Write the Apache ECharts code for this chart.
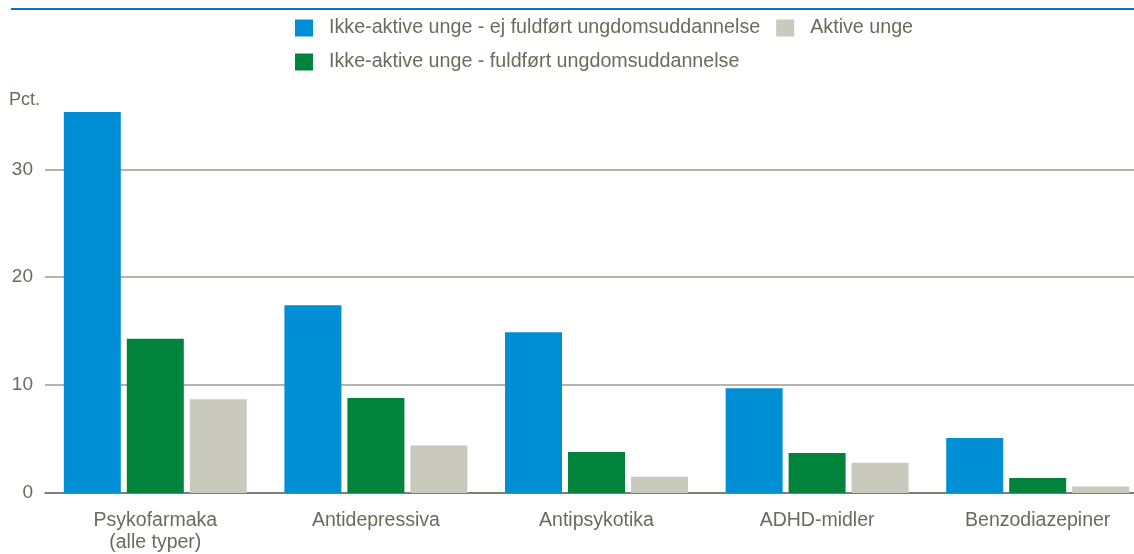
<!DOCTYPE html>
<html>
<head>
<meta charset="utf-8">
<script src="https://cdn.jsdelivr.net/npm/echarts@6/dist/echarts.min.js"></script>
<style>
  html, body { margin: 0; padding: 0; background: #fff; overflow: hidden; }
  /* plot area runs past the right edge in the original, so the div is a bit wider than the window */
  #chart { width: 1148px; height: 554px; }
</style>
</head>
<body>
<div id="chart"></div>
<script>
// data
const categories = ['Psykofarmaka\n(alle typer)', 'Antidepressiva', 'Antipsykotika', 'ADHD-midler', 'Benzodiazepiner']
const seriesNames = [
  'Ikke-aktive unge - ej fuldført ungdomsuddannelse',
  'Ikke-aktive unge - fuldført ungdomsuddannelse',
  'Aktive unge'
]
const ejFuldfort = [35.3, 17.4, 14.9, 9.7, 5.1]
const fuldfort = [14.3, 8.8, 3.8, 3.7, 1.4]
const aktive = [8.7, 4.4, 1.5, 2.8, 0.6]
const yTicks = [0, 10, 20, 30, 40]

const textColor = '#6b6b5b'
const gridColor = '#9b9b8f'
const font = 'Liberation Sans, Arial, sans-serif'
const colors = ['#008fd5', '#00843c', '#c9c9bd']

const chart = echarts.init(document.getElementById('chart'), null, { renderer: 'canvas' })

const legendBase = {
  orient: 'horizontal',
  left: 295,
  padding: 0,
  icon: 'rect',
  itemWidth: 18,
  itemHeight: 17,
  itemGap: 16,
  selectedMode: false,
  textStyle: {
    color: textColor,
    fontFamily: font,
    fontSize: 19.7,
    padding: [0, 0, 0, 11]
  }
}

chart.setOption({
  animation: false,
  color: colors,
  title: {
    text: 'Pct.',
    left: 9,
    top: 91,
    padding: 0,
    textStyle: { color: textColor, fontFamily: font, fontSize: 18, fontWeight: 'normal' }
  },
  legend: [
    Object.assign({}, legendBase, { top: 18, data: [seriesNames[0], seriesNames[2]] }),
    Object.assign({}, legendBase, { top: 52, data: [seriesNames[1]] })
  ],
  graphic: [{
    type: 'line',
    shape: { x1: 11, y1: 9, x2: 1134, y2: 9 },
    style: { stroke: '#0a72c0', lineWidth: 2 }
  }],
  grid: {
    left: 45,
    right: 0,
    top: 61.4,
    bottom: 59.5,
    containLabel: false
  },
  xAxis: {
    type: 'category',
    data: categories,
    axisTick: { show: false },
    axisLine: { lineStyle: { color: '#6e6e5e', width: 1.5 } },
    axisLabel: {
      color: textColor,
      fontFamily: font,
      fontSize: 19.5,
      lineHeight: 22,
      margin: 17
    }
  },
  yAxis: {
    type: 'value',
    min: yTicks[0],
    max: yTicks[yTicks.length - 1],
    interval: 10,
    axisLine: { show: false },
    axisTick: { show: false },
    axisLabel: {
      color: textColor,
      fontFamily: font,
      fontSize: 19,
      margin: 12,
      formatter: v => (v === yTicks[yTicks.length - 1] ? '' : String(v))
    },
    splitLine: {
      lineStyle: {
        color: [gridColor, gridColor, gridColor, gridColor, 'rgba(0,0,0,0)'],
        width: 1.5
      }
    }
  },
  series: [
    { name: seriesNames[0], type: 'bar', data: ejFuldfort, barWidth: 57, barGap: '10.5%' },
    { name: seriesNames[1], type: 'bar', data: fuldfort, barWidth: 57, barGap: '10.5%' },
    { name: seriesNames[2], type: 'bar', data: aktive, barWidth: 57, barGap: '10.5%' }
  ]
})
</script>
</body>
</html>
